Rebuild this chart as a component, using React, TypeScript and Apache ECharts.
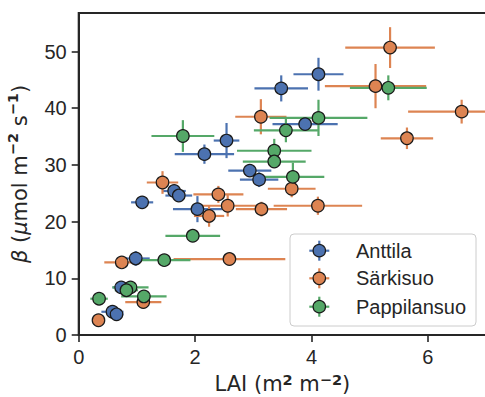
import React, { useEffect, useRef } from "react";
import * as echarts from "echarts";

// [LAI, beta, LAI error, beta error]
const anttila: number[][] = [
  [3.48, 43.5, 0.46, 2.3],
  [4.12, 46.0, 0.43, 2.9],
  [2.54, 34.3, 0.22, 3.1],
  [2.16, 31.9, 0.51, 1.7],
  [2.94, 29.0, 0.37, 1.0],
  [3.1, 27.4, 0.33, 1.3],
  [3.89, 37.2, 0.56, 0.8],
  [1.64, 25.4, 0.2, 0.8],
  [1.72, 24.6, 0.23, 1.0],
  [1.09, 23.4, 0.19, 0.6],
  [2.04, 22.2, 0.42, 2.3],
  [0.98, 13.5, 0.24, 1.3],
  [0.73, 8.4, 0.15, 0.6],
  [0.58, 4.1, 0.19, 0.6],
  [0.65, 3.65, 0.12, 0.5],
];

const sarkisuo: number[][] = [
  [5.35, 50.7, 0.77, 3.6],
  [5.1, 43.9, 0.87, 3.9],
  [6.58, 39.4, 0.92, 2.1],
  [5.64, 34.7, 0.45, 1.9],
  [3.13, 38.5, 0.44, 3.1],
  [3.66, 25.8, 0.41, 1.5],
  [4.11, 22.8, 0.76, 1.6],
  [1.44, 26.9, 0.27, 2.0],
  [2.4, 24.8, 0.43, 1.5],
  [2.56, 22.8, 0.59, 1.9],
  [2.24, 21.0, 0.26, 1.9],
  [3.14, 22.2, 0.44, 1.3],
  [2.59, 13.4, 0.96, 0.6],
  [0.74, 12.8, 0.3, 0.8],
  [1.11, 5.8, 0.31, 0.6],
  [0.34, 2.6, 0.1, 0.5],
];

const pappilansuo: number[][] = [
  [5.32, 43.6, 0.66, 2.2],
  [4.12, 38.3, 0.84, 3.2],
  [3.56, 36.1, 0.55, 2.1],
  [1.79, 35.1, 0.54, 2.8],
  [3.36, 32.5, 0.64, 2.1],
  [3.36, 30.6, 0.54, 1.0],
  [3.68, 27.9, 0.54, 2.5],
  [1.96, 17.5, 0.47, 0.6],
  [1.47, 13.2, 0.45, 0.6],
  [0.89, 8.4, 0.31, 0.5],
  [0.82, 7.9, 0.2, 0.5],
  [1.12, 6.8, 0.39, 0.6],
  [0.35, 6.4, 0.15, 0.5],
];

const xTicks = [0, 2, 4, 6];
const yTicks = [0, 10, 20, 30, 40, 50];

const siteNames = ["Anttila", "Särkisuo", "Pappilansuo"];
const siteColors = ["#4C72B0", "#DD8452", "#55A868"];
const siteData = [anttila, sarkisuo, pappilansuo];

const FONT = "'Liberation Sans', Arial, sans-serif";
const MATH = "'DejaVu Sans', sans-serif";
const INK = "#262626";

export default function App() {
  const ref = useRef<HTMLDivElement>(null);

  useEffect(() => {
    if (!ref.current) return;
    const chart = echarts.init(ref.current, undefined, { renderer: "svg" });

    const series: any[] = [];
    siteData.forEach((data, i) => {
      const color = siteColors[i];
      series.push({
        type: "custom",
        name: siteNames[i] + " error",
        data,
        encode: { x: 0, y: 1 },
        clip: true,
        renderItem: (params: any, api: any) => {
          const x = api.value(0);
          const y = api.value(1);
          const xe = api.value(2);
          const ye = api.value(3);
          const l = api.coord([x - xe, y]);
          const r = api.coord([x + xe, y]);
          const t = api.coord([x, y + ye]);
          const b = api.coord([x, y - ye]);
          const st = { stroke: color, lineWidth: 2.2 };
          return {
            type: "group",
            children: [
              { type: "line", shape: { x1: l[0], y1: l[1], x2: r[0], y2: r[1] }, style: st },
              { type: "line", shape: { x1: t[0], y1: t[1], x2: b[0], y2: b[1] }, style: st },
            ],
          };
        },
      });
      series.push({
        type: "scatter",
        name: siteNames[i],
        data: data.map((d) => [d[0], d[1]]),
        symbol: "circle",
        symbolSize: 12.5,
        itemStyle: { color, borderColor: "#1a1a1a", borderWidth: 1.2, opacity: 1 },
      });
    });

    const legendX = 290;
    const legendY = 234;
    const rowY = [250.7, 278.3, 306.7];
    const legendChildren: any[] = [
      {
        type: "rect",
        shape: { x: legendX, y: legendY, width: 186, height: 92, r: 4 },
        style: { fill: "rgba(255,255,255,0.85)", stroke: "#cccccc", lineWidth: 1 },
      },
    ];
    siteNames.forEach((name, i) => {
      const cy = rowY[i];
      const cx = 319.3;
      legendChildren.push(
        { type: "line", shape: { x1: cx - 10, y1: cy, x2: cx + 10, y2: cy }, style: { stroke: siteColors[i], lineWidth: 2.2 } },
        { type: "line", shape: { x1: cx, y1: cy - 10, x2: cx, y2: cy + 10 }, style: { stroke: siteColors[i], lineWidth: 2.2 } },
        { type: "circle", shape: { cx, cy, r: 6.2 }, style: { fill: siteColors[i], stroke: "#1a1a1a", lineWidth: 1.2 } },
        {
          type: "text",
          x: 356,
          y: cy,
          style: { text: name, fill: INK, font: `20px ${FONT}`, textVerticalAlign: "middle", verticalAlign: "middle" },
        }
      );
    });

    const supStyle = { fontSize: 14.5, fontWeight: "bold", fontFamily: MATH, color: INK, verticalAlign: "top", lineHeight: 14 };

    chart.setOption({
      animation: false,
      grid: {
        left: 78.7,
        top: 13,
        width: 407.4,
        bottom: 62,
        show: true,
        borderColor: INK,
        borderWidth: 2,
        backgroundColor: "transparent",
        containLabel: false,
        outerBoundsMode: "none",
      },
      xAxis: {
        type: "value",
        min: 0,
        max: 7,
        interval: 2,
        name: "LAI (m{s|2} m{s|−2})",
        nameLocation: "middle",
        nameGap: 37,
        nameTextStyle: {
          fontSize: 21,
          fontFamily: MATH,
          color: INK,
          lineHeight: 24,
          rich: { s: supStyle },
        },
        axisLine: { show: true, lineStyle: { color: INK, width: 2 } },
        axisTick: { show: true, length: 7, customValues: xTicks, lineStyle: { color: INK, width: 1.6 } },
        axisLabel: { fontSize: 20, fontFamily: FONT, color: INK, margin: 12, customValues: xTicks },
        splitLine: { show: false },
      },
      yAxis: {
        type: "value",
        min: 0,
        max: 56.8,
        interval: 10,
        name: "{i|β} ({i|μ}mol m{s|−2} s{s|−1})",
        nameLocation: "middle",
        nameGap: 27,
        nameTextStyle: {
          fontSize: 21,
          fontFamily: MATH,
          color: INK,
          lineHeight: 28,
          rich: {
            i: { fontSize: 21, fontStyle: "italic", fontFamily: MATH, color: INK, lineHeight: 28 },
            s: supStyle,
          },
        },
        axisLine: { show: true, lineStyle: { color: INK, width: 2 } },
        axisTick: { show: true, length: 7, customValues: yTicks, lineStyle: { color: INK, width: 1.6 } },
        axisLabel: { fontSize: 20, fontFamily: FONT, color: INK, margin: 12, customValues: yTicks },
        splitLine: { show: false },
      },
      series,
      graphic: [{ type: "group", children: legendChildren, z: 100 }],
    });

    return () => chart.dispose();
  }, []);

  return <div ref={ref} style={{ width: 485, height: 397, position: "absolute", left: 0, top: 0 }} />;
}
